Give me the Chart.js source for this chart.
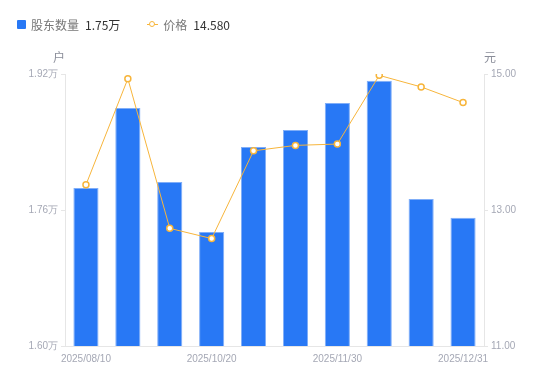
<!DOCTYPE html>
<html><head><meta charset="utf-8">
<script src="https://cdn.jsdelivr.net/npm/chart.js@4"></script>
<style>
html,body{margin:0;padding:0;background:#fff;}
#wrap{position:relative;width:550px;height:381px;}
#legend{position:absolute;left:17px;top:16px;font:12px "Noto Sans CJK SC","Noto Sans",sans-serif;display:flex;align-items:center;white-space:nowrap;}
#legend .sq{display:inline-block;width:9px;height:9px;background:#2878F5;border-radius:1px;margin-right:5px;}
#legend .nm{color:#777;margin-right:6px;}
#legend .vl{color:#333;margin-right:27px;}
#legend .ln{position:relative;display:inline-block;width:11px;height:9px;margin-right:5px;}
#legend .ln:before{content:"";position:absolute;left:0;right:0;top:4px;height:1px;background:#F7B53B;}
#legend .ln:after{content:"";position:absolute;left:2px;top:1px;width:4px;height:4px;border:1.5px solid #F7B53B;border-radius:50%;background:#fff;}
canvas{position:absolute;left:0;top:0;}
</style></head>
<body><div id="wrap">
<canvas id="c" width="550" height="381"></canvas>
<div id="legend"><span class="sq"></span><span class="nm">股东数量</span><span class="vl">1.75万</span><span class="ln"></span><span class="nm">价格</span><span class="vl">14.580</span></div>
</div>
<script>
const categories = ["2025/08/10","2025/08/31","2025/09/30","2025/10/20","2025/10/31","2025/11/10","2025/11/30","2025/12/10","2025/12/20","2025/12/31"];
const shownLabels = ["2025/08/10","2025/10/20","2025/11/30","2025/12/31"];
const holders = [17860, 18800, 17930, 17340, 18340, 18540, 18860, 19120, 17730, 17510];
const prices = [13.37, 14.93, 12.73, 12.58, 13.87, 13.95, 13.97, 14.98, 14.81, 14.58];
const leftTicks = [16000, 17600, 19200];
const rightTicks = [11, 13, 15];

const tickFont = {family:'"Liberation Sans", Arial, sans-serif', size:10};
const tickColor = '#A5A8B5';
const axisColor = '#E6E6E6';

const titlePlugin = {
  id:'axisTitles',
  afterDraw(chart){
    const ctx = chart.ctx, y = chart.scales.y, y2 = chart.scales.y2;
    ctx.save();
    ctx.font = '12px "Noto Sans CJK SC", sans-serif';
    ctx.fillStyle = '#8A8D99';
    ctx.textBaseline = 'middle';
    ctx.textAlign = 'center';
    ctx.fillText('户', y.right - 6, y.top - 17);
    ctx.fillText('元', y2.left + 6, y2.top - 17);
    ctx.restore();
  }
};

new Chart(document.getElementById('c'), {
  data:{
    labels: categories,
    datasets:[
      {type:'line', data:prices, yAxisID:'y2', borderColor:'#F7B53B', borderWidth:1,
       pointRadius:3, pointBorderWidth:1.5, pointBackgroundColor:'#fff', pointBorderColor:'#F7B53B',
       tension:0, order:0},
      {type:'bar', data:holders, yAxisID:'y', backgroundColor:'#2878F5', borderColor:'#80AEF8', borderWidth:{top:1,left:1,right:1,bottom:0},
       barPercentage:0.6, categoryPercentage:1, order:1}
    ]
  },
  options:{
    responsive:false, animation:false,
    layout:{padding:{top:74, bottom:0, left:0, right:0}},
    plugins:{legend:{display:false}, tooltip:{enabled:false}},
    scales:{
      x:{
        offset:true,
        grid:{display:false, drawTicks:false},
        border:{display:true, color:axisColor},
        ticks:{autoSkip:false, maxRotation:0, color:tickColor, font:tickFont, padding:7,
          callback(v){ const l = categories[v]; return shownLabels.includes(l) ? l : ''; }},
        afterFit(s){ s.height = 35; }
      },
      y:{
        position:'left', min:16000, max:19200,
        afterBuildTicks(s){ s.ticks = leftTicks.map(v=>({value:v})); },
        grid:{drawOnChartArea:false, drawTicks:true, tickLength:4, color:axisColor},
        border:{display:true, color:axisColor},
        ticks:{color:tickColor, font:tickFont, padding:3, callback(v){ return (v/10000).toFixed(2)+'万'; }},
        afterFit(s){ s.width = 65; }
      },
      y2:{
        position:'right', min:11, max:15,
        afterBuildTicks(s){ s.ticks = rightTicks.map(v=>({value:v})); },
        grid:{drawOnChartArea:false, drawTicks:true, tickLength:4, color:axisColor},
        border:{display:true, color:axisColor},
        ticks:{color:tickColor, font:tickFont, padding:3, callback(v){ return Number(v).toFixed(2); }},
        afterFit(s){ s.width = 66; }
      }
    }
  },
  plugins:[titlePlugin]
});
</script>
</body></html>
